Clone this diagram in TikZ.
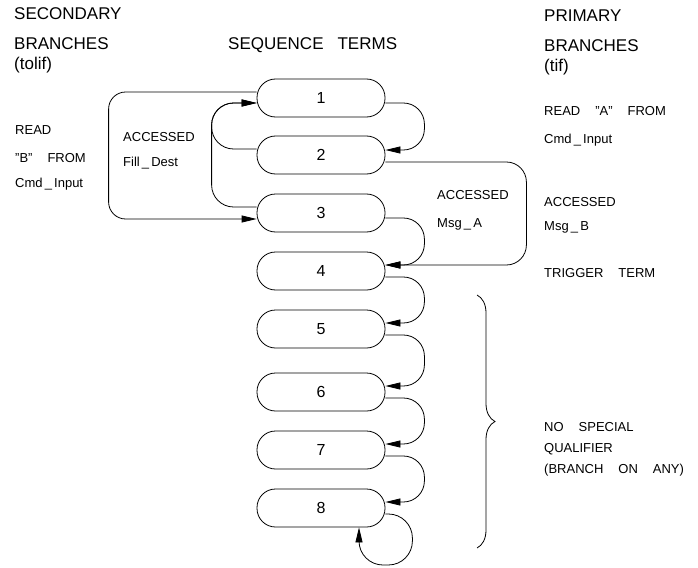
\documentclass[tikz,border=0pt]{standalone}
\usepackage{fontspec}
\setmainfont{Liberation Sans}
\usetikzlibrary{arrows.meta,decorations.pathreplacing}
\newcommand\wsp{\hspace{15pt}}
\begin{document}
\begin{tikzpicture}[x=1pt,y=-1pt,
  term/.style={draw, line width=0.8pt, rounded corners=18.5pt, minimum width=128pt, minimum height=38pt, inner sep=0pt, font=\fontsize{16}{16}\selectfont},
  lbl/.style={anchor=base west, inner sep=0pt, font=\fontsize{13}{13}\selectfont},
  hdr/.style={anchor=base west, inner sep=0pt, font=\fontsize{17}{17}\selectfont},
  link/.style={line width=0.8pt, -{Triangle[length=15pt,width=7pt]}},
]
\useasboundingbox (0,0) rectangle (698,567);

% sequence terms
\node[term] (n1) at (321,98) {1};
\node[term] (n2) at (321,155) {2};
\node[term] (n3) at (321,213) {3};
\node[term] (n4) at (321,271) {4};
\node[term] (n5) at (321,329) {5};
\node[term] (n6) at (321,392) {6};
\node[term] (n7) at (321,450) {7};
\node[term] (n8) at (321,508) {8};

% headers
\node[hdr] (sec1) at (14,20) {SECONDARY};
\node[hdr] (sec2) at (14,50) {BRANCHES};
\node[hdr] (sec3) at (14,70) {(tolif)};
\node[hdr] (seq) at (228,50) {SEQUENCE\hspace{14pt}TERMS};
\node[hdr] (pri1) at (544,22) {PRIMARY};
\node[hdr] (pri2) at (544,52) {BRANCHES};
\node[hdr] (pri3) at (544,72) {(tif)};

% labels right
\node[lbl] (ra1) at (544,115) {READ\wsp"A"\wsp FROM};
\node[lbl] (ra2) at (544,143) {Cmd\,\_\,Input};
\node[lbl] (mb1) at (544,206) {ACCESSED};
\node[lbl] (mb2) at (544,230) {Msg\,\_\,B};
\node[lbl] (tt) at (544,277) {TRIGGER\wsp TERM};
\node[lbl] (ma1) at (437,199) {ACCESSED};
\node[lbl] (ma2) at (437,227) {Msg\,\_\,A};
\node[lbl] (ns1) at (544,431) {NO\wsp SPECIAL};
\node[lbl] (ns2) at (544,452) {QUALIFIER};
\node[lbl] (ns3) at (544,473) {(BRANCH\wsp ON\wsp ANY)};

% labels left
\node[lbl] (rb1) at (15,134) {READ};
\node[lbl] (rb2) at (15,162) {"B"\wsp FROM};
\node[lbl] (rb3) at (15,187) {Cmd\,\_\,Input};
\node[lbl] (fd1) at (123,141) {ACCESSED};
\node[lbl] (fd2) at (123,166) {Fill\,\_\,Dest};

% right-side successive branches
\draw[link, rounded corners=21pt] ([yshift=-5pt]n1.east) -- ++(39,0) |- ([yshift=5pt]n2.east);
\draw[link, rounded corners=21pt] ([yshift=-5pt]n3.east) -- ++(39,0) |- ([yshift=6pt]n4.east);
\draw[link, rounded corners=21pt] ([yshift=-6pt]n4.east) -- ++(39,0) |- ([yshift=6pt]n5.east);
\draw[link, rounded corners=21pt] ([yshift=-6pt]n5.east) -- ++(39,0) |- ([yshift=6pt]n6.east);
\draw[link, rounded corners=21pt] ([yshift=-6pt]n6.east) -- ++(39,0) |- ([yshift=6pt]n7.east);
\draw[link, rounded corners=21pt] ([yshift=-6pt]n7.east) -- ++(39,0) |- ([yshift=6pt]n8.east);

% Msg_B branch 2 -> 4
\draw[link, rounded corners=20pt] ([yshift=-7pt]n2.east) -- ++(141,0) |- ([yshift=6pt]n4.east);

% self loop on 8
\coordinate (l8) at ([xshift=38pt]n8.south);
\draw[link, rounded corners=24pt] ([yshift=-6pt]n8.east) -- ++(27,0) -- ++(0,51) -| (l8);

% left-side branches
\draw[link, rounded corners=17pt] ([yshift=6pt]n1.west) -- ++(-148,0) |- ([yshift=-6pt]n3.west);
\draw[link, rounded corners=22pt] ([yshift=6pt]n2.west) -- ++(-45,0) |- ([yshift=-5pt]n1.west);
\draw[link, rounded corners=22pt] ([yshift=6pt]n3.west) -- ++(-45,0) |- ([yshift=-5pt]n1.west);

% brace
\draw[line width=0.8pt, decorate, decoration={brace, amplitude=18pt}] (477,295) -- (477,548);
\end{tikzpicture}
\end{document}
